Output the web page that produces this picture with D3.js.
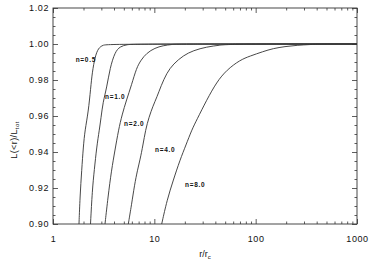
<!DOCTYPE html>
<html>
<head>
<meta charset="utf-8">
<script src="https://d3js.org/d3.v7.min.js"></script>
<style>
  html, body { margin: 0; padding: 0; background: #fff; }
  svg { display: block; }
  .tick text { font-family: "Liberation Sans", Arial, sans-serif; font-size: 9px; fill: #111; letter-spacing: 0.6px; }
  .tick line { stroke: #333; stroke-width: 0.8; }
</style>
</head>
<body>
<svg id="chart" width="375" height="267"></svg>
<script>
// ---- data ----
const curveNames = ["n=0.5", "n=1.0", "n=2.0", "n=4.0", "n=8.0"];
// each curve: [r/rc, L(<r)/Ltot]
const curveN05 = [[1.805,0.900],[1.847,0.915],[1.920,0.930],[1.991,0.9428],[2.069,0.9522],[2.230,0.9622],[2.355,0.9756],[2.442,0.9844],[2.597,0.9928],[2.800,0.9978],[3.115,0.9994],[3.49,1.000],[1000,1.000]];
const curveN10 = [[2.345,0.900],[2.442,0.9189],[2.556,0.930],[2.700,0.9428],[2.864,0.9522],[2.977,0.9589],[3.115,0.9678],[3.388,0.9756],[3.652,0.9867],[4.092,0.9956],[4.584,0.9986],[5.375,0.9997],[6.446,1.000],[1000,1.000]];
const curveN20 = [[3.26,0.900],[3.49,0.915],[3.778,0.930],[4.092,0.9411],[4.431,0.9522],[4.797,0.9606],[5.314,0.9689],[5.953,0.9772],[6.668,0.9867],[7.387,0.9911],[8.41,0.9950],[10.15,0.9978],[12.18,0.9991],[14.94,0.9998],[17.92,1.000],[1000,1.000]];
const curveN40 = [[5.535,0.900],[5.953,0.9106],[6.373,0.9217],[6.822,0.930],[7.22,0.9356],[7.73,0.9439],[8.183,0.9522],[8.86,0.9594],[9.703,0.9656],[10.62,0.9706],[11.64,0.9767],[13.25,0.9839],[15.39,0.9889],[19.32,0.9936],[24.24,0.9964],[32.87,0.9984],[44.47,0.9994],[58.42,1.000],[1000,1.000]];
const curveN80 = [[11.82,0.900],[13.34,0.9133],[15.39,0.9244],[17.92,0.9356],[20.53,0.9439],[23.38,0.9522],[26.19,0.9578],[32.87,0.9689],[41.26,0.9789],[51.80,0.9856],[70.05,0.9911],[87.95,0.9933],[118.2,0.9958],[148.3,0.9975],[194.8,0.9986],[255.9,0.9993],[343.9,0.9997],[431.5,1.000],[1000,1.000]];
// label anchor positions in data units [r, L] (left edge, baseline)
const labelPos = [[1.675,0.9900],[3.26,0.9694],[5.02,0.9547],[10.15,0.9400],[20.08,0.9203]];
const yMajorTicks = [0.90, 0.92, 0.94, 0.96, 0.98, 1.00, 1.02];
const xMajorTicks = [1, 10, 100, 1000];
const xTickLabels = ["1", "10", "100", "1000"];

const curves = [curveN05, curveN10, curveN20, curveN40, curveN80];

(function () {
// ---- layout ----
const svg = d3.select("#chart");
const mLeft = 53, mRight = 357, mTop = 8, mBottom = 224;
const x = d3.scaleLog().domain([1, 1000]).range([mLeft, mRight]);
const y = d3.scaleLinear().domain([0.90, 1.02]).range([mBottom, mTop]);

// minor ticks
const yMinor = d3.range(0, 25).map(i => +(0.90 + i * 0.005).toFixed(3)).filter(v => !yMajorTicks.some(m => Math.abs(m - v) < 1e-6));
const xMinor = [];
[1, 10, 100].forEach(d => { for (let k = 2; k <= 9; k++) xMinor.push(d * k); });

function styleAxis(g) { g.select(".domain").remove(); }

// bottom
svg.append("g").attr("transform", `translate(0,${mBottom})`)
  .call(d3.axisBottom(x).tickValues(xMajorTicks).tickSize(-5).tickPadding(11.6)
    .tickFormat((d, i) => xTickLabels[i])).call(styleAxis);
svg.append("g").attr("transform", `translate(0,${mBottom})`)
  .call(d3.axisBottom(x).tickValues(xMinor).tickSize(-2.5).tickFormat("")).call(styleAxis);
// top
svg.append("g").attr("transform", `translate(0,${mTop})`)
  .call(d3.axisTop(x).tickValues(xMajorTicks).tickSize(-5).tickFormat("")).call(styleAxis);
svg.append("g").attr("transform", `translate(0,${mTop})`)
  .call(d3.axisTop(x).tickValues(xMinor).tickSize(-2.5).tickFormat("")).call(styleAxis);
// left
svg.append("g").attr("transform", `translate(${mLeft},0)`)
  .call(d3.axisLeft(y).tickValues(yMajorTicks).tickSize(-5).tickPadding(4).tickFormat(d3.format(".2f"))).call(styleAxis);
svg.append("g").attr("transform", `translate(${mLeft},0)`)
  .call(d3.axisLeft(y).tickValues(yMinor).tickSize(-2.5).tickFormat("")).call(styleAxis);
// right
svg.append("g").attr("transform", `translate(${mRight},0)`)
  .call(d3.axisRight(y).tickValues(yMajorTicks).tickSize(-5).tickFormat("")).call(styleAxis);
svg.append("g").attr("transform", `translate(${mRight},0)`)
  .call(d3.axisRight(y).tickValues(yMinor).tickSize(-2.5).tickFormat("")).call(styleAxis);

// frame
svg.append("rect").attr("x", mLeft).attr("y", mTop)
  .attr("width", mRight - mLeft).attr("height", mBottom - mTop)
  .attr("fill", "none").attr("stroke", "#333").attr("stroke-width", 0.9);

// curves
const line = d3.line().x(d => x(d[0])).y(d => y(d[1])).curve(d3.curveBasis);
svg.append("g").selectAll("path").data(curves).join("path")
  .attr("d", line).attr("fill", "none").attr("stroke", "#333").attr("stroke-width", 0.9);

// curve labels
svg.append("g").selectAll("text").data(curveNames).join("text")
  .attr("x", (d, i) => x(labelPos[i][0]))
  .attr("y", (d, i) => y(labelPos[i][1]))
  .attr("font-family", "Liberation Sans, Arial, sans-serif")
  .attr("font-size", 6.5).attr("font-weight", "bold").attr("letter-spacing", 0.7)
  .attr("fill", "#111")
  .text(d => d);

// axis titles
const xt = svg.append("text").attr("x", 205).attr("y", 256.5).attr("text-anchor", "middle")
  .attr("font-family", "Liberation Sans, Arial, sans-serif").attr("font-size", 9).attr("fill", "#111");
xt.append("tspan").text("r/r");
xt.append("tspan").attr("font-size", 6).attr("dy", 2).text("c");

const yt = svg.append("text").attr("transform", "translate(16.5,140) rotate(-90)").attr("text-anchor", "middle")
  .attr("font-family", "Liberation Sans, Arial, sans-serif").attr("font-size", 9).attr("fill", "#111")
  .attr("letter-spacing", 0.4);
yt.append("tspan").text("L(<r)/L");
yt.append("tspan").attr("font-size", 6).attr("dy", 2).text("tot");
})();
</script>
</body>
</html>
